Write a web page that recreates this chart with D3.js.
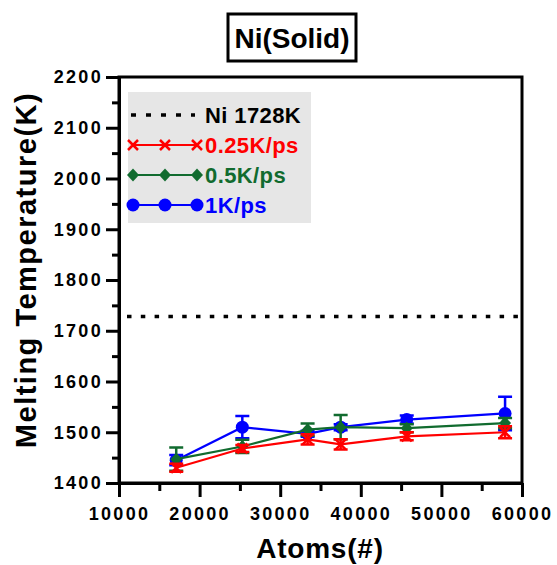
<!DOCTYPE html>
<html>
<head>
<meta charset="utf-8">
<script src="https://cdn.jsdelivr.net/npm/d3@7"></script>
<style>
  body { margin: 0; background: #fff; }
  text { font-family: "Liberation Sans", Arial, sans-serif; font-weight: bold; }
</style>
</head>
<body>
<div id="chart"></div>
<script>
// données
const atoms = [17100, 25300, 33400, 37500, 45700, 57900];
const rate025 = [1430, 1468, 1486, 1476, 1492, 1500];
const err025 = [8, 7, 10, 10, 8, 12];
const rate05 = [1447, 1472, 1505, 1510, 1508, 1518];
const err05 = [23, 13, 12, 24, 8, 10];
const rate1 = [1445, 1510, 1497, 1510, 1525, 1537];
const err1 = [10, 22, 6, 6, 8, 33];
const niMelt = 1728;
const xTicks = [10000, 20000, 30000, 40000, 50000, 60000];
const yTicks = [1400, 1500, 1600, 1700, 1800, 1900, 2000, 2100, 2200];

const margin = { top: 77, left: 119 };
const width = 403;
const height = 406;

const svg = d3.select("#chart")
    .append("svg")
    .attr("width", 557)
    .attr("height", 565);

const g = svg.append("g")
    .attr("transform", `translate(${margin.left},${margin.top})`);

const xScale = d3.scaleLinear().domain([10000, 60000]).range([0, width]);
const yScale = d3.scaleLinear().domain([1400, 2200]).range([height, 0]);

// titre encadré
svg.append("rect")
    .attr("x", 228).attr("y", 14).attr("width", 128).attr("height", 47)
    .style("fill", "none").style("stroke", "#000").style("stroke-width", 3);
svg.append("text")
    .attr("x", 292).attr("y", 48)
    .attr("text-anchor", "middle")
    .style("font-size", "28px")
    .text("Ni(Solid)");

// légende (fond gris)
const legend = g.append("g");
legend.append("rect")
    .attr("x", 9).attr("y", 15).attr("width", 183).attr("height", 131)
    .style("fill", "#e6e6e6");

// ligne pointillée Ni 1728K
g.append("line")
    .attr("x1", xScale(10000) + 8).attr("x2", xScale(60000) - 4)
    .attr("y1", yScale(niMelt)).attr("y2", yScale(niMelt))
    .style("stroke", "#000").style("stroke-width", 3.5)
    .style("stroke-dasharray", "4.5 9.3");

const series = [
    { name: "1K/ps", values: rate1, err: err1, color: "#0000ff", marker: "circle" },
    { name: "0.5K/ps", values: rate05, err: err05, color: "#116b2f", marker: "diamond" },
    { name: "0.25K/ps", values: rate025, err: err025, color: "#ff0000", marker: "cross" }
];

function drawMarker(sel, type, color, x, y) {
    if (type === "circle") {
        sel.append("circle").attr("cx", x).attr("cy", y).attr("r", 6.5).style("fill", color);
    } else if (type === "diamond") {
        sel.append("path")
            .attr("d", `M${x},${y - 6.5}L${x + 6},${y}L${x},${y + 6.5}L${x - 6},${y}Z`)
            .style("fill", color);
    } else {
        sel.append("path")
            .attr("d", `M${x - 5},${y - 5}L${x + 5},${y + 5}M${x - 5},${y + 5}L${x + 5},${y - 5}`)
            .style("stroke", color).style("stroke-width", 2.5).style("fill", "none");
    }
}

const line = d3.line()
    .x((d, i) => xScale(atoms[i]))
    .y(d => yScale(d));

series.forEach(function (s) {
    const sg = g.append("g");
    sg.append("path")
        .attr("d", line(s.values))
        .style("stroke", s.color).style("stroke-width", 2.2).style("fill", "none");

    s.values.forEach(function (v, i) {
        const x = xScale(atoms[i]);
        const yTop = yScale(v + s.err[i]);
        const yBot = yScale(v - s.err[i]);
        sg.append("path")
            .attr("d", `M${x},${yTop}L${x},${yBot}M${x - 7},${yTop}L${x + 7},${yTop}M${x - 7},${yBot}L${x + 7},${yBot}`)
            .style("stroke", s.color).style("stroke-width", 2.5).style("fill", "none");
        drawMarker(sg, s.marker, s.color, x, yScale(v));
    });
});

// entrées de la légende
const legendItems = [
    { name: "Ni 1728K", color: "#000", marker: "dash" },
    { name: "0.25K/ps", color: "#ff0000", marker: "cross" },
    { name: "0.5K/ps", color: "#116b2f", marker: "diamond" },
    { name: "1K/ps", color: "#0000ff", marker: "circle" }
];
legendItems.forEach(function (d, i) {
    const y = 38 + i * 30;
    if (d.marker === "dash") {
        legend.append("line")
            .attr("x1", 12).attr("x2", 76).attr("y1", y).attr("y2", y)
            .style("stroke", "#000").style("stroke-width", 3.5)
            .style("stroke-dasharray", "5 10");
    } else {
        legend.append("line")
            .attr("x1", 14).attr("x2", 78).attr("y1", y).attr("y2", y)
            .style("stroke", d.color).style("stroke-width", 2.2);
        [14, 46, 78].forEach(x => drawMarker(legend, d.marker, d.color, x, y));
    }
    legend.append("text")
        .attr("x", 86).attr("y", y)
        .attr("dy", "0.36em")
        .style("font-size", "22px")
        .style("letter-spacing", "0.4px")
        .style("fill", d.color)
        .text(d.name);
});

// cadre haut et droite
g.append("rect")
    .attr("width", width).attr("height", height)
    .style("fill", "none").style("stroke", "#000").style("stroke-width", 3);

// axes
const xMinor = d3.range(15000, 60000, 10000);
const yMinor = d3.range(1450, 2200, 100);

g.append("g")
    .attr("transform", `translate(0,${height})`)
    .call(d3.axisBottom(xScale).tickValues(xMinor).tickSize(8).tickFormat(""))
    .call(a => a.select(".domain").remove())
    .selectAll("line").style("stroke-width", 3);

const xAxis = g.append("g")
    .attr("transform", `translate(0,${height})`)
    .call(d3.axisBottom(xScale).tickValues(xTicks).tickSize(14).tickPadding(10).tickSizeOuter(0).tickFormat(d3.format("d")));
xAxis.select(".domain").style("stroke-width", 3);
xAxis.selectAll("line").style("stroke-width", 3);
xAxis.selectAll("text")
    .style("font-size", "18px")
    .style("letter-spacing", "2.3px")
    .style("font-family", "'Liberation Sans', Arial, sans-serif")
    .style("font-weight", "bold");

g.append("g")
    .call(d3.axisLeft(yScale).tickValues(yMinor).tickSize(7).tickFormat(""))
    .call(a => a.select(".domain").remove())
    .selectAll("line").style("stroke-width", 3);

const yAxis = g.append("g")
    .call(d3.axisLeft(yScale).tickValues(yTicks).tickSize(13).tickPadding(3).tickSizeOuter(0).tickFormat(d3.format("d")));
yAxis.select(".domain").style("stroke-width", 3);
yAxis.selectAll("line").style("stroke-width", 3);
yAxis.selectAll("text")
    .style("font-size", "18px")
    .style("letter-spacing", "2.3px")
    .style("font-family", "'Liberation Sans', Arial, sans-serif")
    .style("font-weight", "bold");

// titres des axes
svg.append("text")
    .attr("x", 320).attr("y", 558)
    .attr("text-anchor", "middle")
    .style("font-size", "28px")
    .style("letter-spacing", "0.8px")
    .text("Atoms(#)");

svg.append("text")
    .attr("transform", "rotate(-90)")
    .attr("x", -270).attr("y", 36)
    .attr("text-anchor", "middle")
    .style("font-size", "29px")
    .style("letter-spacing", "1.5px")
    .text("Melting Temperature(K)");
</script>
</body>
</html>
